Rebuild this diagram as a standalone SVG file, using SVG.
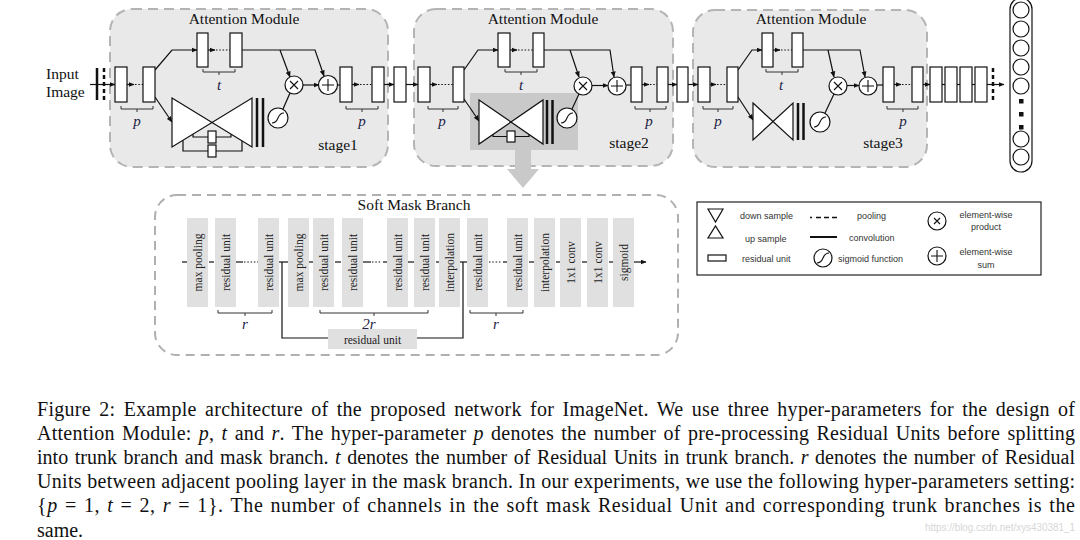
<svg xmlns="http://www.w3.org/2000/svg" width="1080" height="540" viewBox="0 0 1080 540">
<style>
.mod{fill:#e9e9e9;stroke:#b4b4b4;stroke-width:2;stroke-dasharray:10 6}
.smb{fill:#fff;stroke:#b0b0b0;stroke-width:2;stroke-dasharray:9 6}
.ru{fill:#fff;stroke:#111;stroke-width:1.2}
.ln{fill:none;stroke:#111;stroke-width:1.2}
.dot{fill:none;stroke:#111;stroke-width:1.2;stroke-dasharray:1.5 1.8}
.br{fill:none;stroke:#333;stroke-width:1}
.bt{fill:#fff;stroke:#111;stroke-width:1.2}
.thick{stroke:#111;stroke-width:2.5}
.t15{font-family:"Liberation Serif",serif;font-size:15.5px;fill:#111}
.it{font-family:"Liberation Serif",serif;font-size:15px;font-style:italic;fill:#222244;text-anchor:middle}
.col{fill:#e0e0e0}
.ct{font-family:"Liberation Serif",serif;font-size:11.5px;fill:#222;text-anchor:middle;dominant-baseline:central}
.lg{font-family:"Liberation Sans",Arial,sans-serif;font-size:9px;fill:#333}
.cap{font-family:"Liberation Serif",serif;font-size:20px;fill:#111}
.sm{fill:none;stroke:#111;stroke-width:1.1}
.dash{fill:none;stroke:#111;stroke-width:1.2}
</style>
<defs>
<marker id="ah" markerWidth="6" markerHeight="6" refX="5.5" refY="3" orient="auto" markerUnits="userSpaceOnUse">
<path d="M0,0.5 L6,3 L0,5.5 z" fill="#111"/>
</marker>
</defs>

<!-- module backgrounds -->
<g id="modules">
<rect class="mod" x="110" y="9" width="278" height="158" rx="22"/>
<rect class="mod" x="414" y="9" width="259" height="157" rx="22"/>
<rect class="mod" x="693" y="10" width="234" height="157" rx="22"/>
<rect x="470" y="93" width="108" height="57" fill="#c9c9c9"/>
<polygon points="515,150 531,150 531,169 539,169 523,188 507,169 515,169" fill="#c9c9c9"/>
<text class="t15" x="244" y="24" text-anchor="middle">Attention Module</text>
<text class="t15" x="543" y="24" text-anchor="middle">Attention Module</text>
<text class="t15" x="811" y="24" text-anchor="middle">Attention Module</text>
<text class="t15" x="338" y="150" text-anchor="middle">stage1</text>
<text class="t15" x="629" y="148" text-anchor="middle">stage2</text>
<text class="t15" x="883" y="148" text-anchor="middle">stage3</text>
</g>

<g id="input">
<text class="t15" x="46" y="79">Input</text>
<text class="t15" x="46" y="97">Image</text>
<line x1="97" y1="68" x2="97" y2="100" class="thick"/>
<line x1="104" y1="68" x2="104" y2="100" class="thick" stroke-dasharray="4 3"/>
</g>

<!-- connectors -->
<g id="connectors">
<line class="ln" x1="90" y1="84.5" x2="115" y2="84.5" marker-end="url(#ah)"/>
<line class="ln" x1="127" y1="84.5" x2="134" y2="84.5" marker-end="url(#ah)"/>
<line class="dot" x1="135" y1="84.5" x2="143" y2="84.5"/>
<path class="ln" d="M155,70 L172,50 H197" marker-end="url(#ah)"/>
<line class="ln" x1="208" y1="50" x2="215" y2="50" marker-end="url(#ah)"/>
<line class="dot" x1="216" y1="50" x2="230" y2="50"/>
<path class="ln" d="M242,50 H315 L324,76" marker-end="url(#ah)"/>
<path class="ln" d="M280,50 L290,77" marker-end="url(#ah)"/>
<path class="ln" d="M155,97 L172,122" marker-end="url(#ah)"/>
<line class="ln" x1="283" y1="109" x2="290" y2="93"/>
<line class="ln" x1="303" y1="85" x2="319" y2="85" marker-end="url(#ah)"/>
<line class="ln" x1="337" y1="85" x2="340" y2="85"/>
<line class="ln" x1="352" y1="84.5" x2="359" y2="84.5" marker-end="url(#ah)"/>
<line class="dot" x1="360" y1="84.5" x2="372" y2="84.5"/>
<line class="ln" x1="384" y1="84.5" x2="394" y2="84.5" marker-end="url(#ah)"/>
<line class="ln" x1="406" y1="84.5" x2="418" y2="84.5" marker-end="url(#ah)"/>

<line class="ln" x1="430" y1="84.5" x2="437" y2="84.5" marker-end="url(#ah)"/>
<line class="dot" x1="438" y1="84.5" x2="453" y2="84.5"/>
<path class="ln" d="M464,70 L478,50 H498" marker-end="url(#ah)"/>
<line class="ln" x1="510" y1="50" x2="517" y2="50" marker-end="url(#ah)"/>
<line class="dot" x1="518" y1="50" x2="533" y2="50"/>
<path class="ln" d="M544,50 H610 L614,77" marker-end="url(#ah)"/>
<path class="ln" d="M570,50 L579,77" marker-end="url(#ah)"/>
<path class="ln" d="M464,99 L479,121" marker-end="url(#ah)"/>
<line class="ln" x1="572" y1="109" x2="579" y2="94"/>
<line class="ln" x1="592" y1="85.5" x2="608" y2="85.5" marker-end="url(#ah)"/>
<line class="ln" x1="626" y1="85" x2="631" y2="85"/>
<line class="ln" x1="642" y1="84.5" x2="649" y2="84.5" marker-end="url(#ah)"/>
<line class="dot" x1="650" y1="84.5" x2="657" y2="84.5"/>
<line class="ln" x1="668" y1="84.5" x2="677" y2="84.5" marker-end="url(#ah)"/>
<line class="ln" x1="688" y1="84.5" x2="698" y2="84.5" marker-end="url(#ah)"/>

<line class="ln" x1="710" y1="84.5" x2="716" y2="84.5" marker-end="url(#ah)"/>
<line class="dot" x1="717" y1="84.5" x2="727" y2="84.5"/>
<path class="ln" d="M738,70 L752,50 H762" marker-end="url(#ah)"/>
<line class="ln" x1="773" y1="50" x2="780" y2="50" marker-end="url(#ah)"/>
<line class="dot" x1="781" y1="50" x2="792" y2="50"/>
<path class="ln" d="M803,50 H860 L865,77" marker-end="url(#ah)"/>
<path class="ln" d="M828,50 L834,77" marker-end="url(#ah)"/>
<path class="ln" d="M738,97 L753,120" marker-end="url(#ah)"/>
<line class="ln" x1="825" y1="113" x2="834" y2="94"/>
<line class="ln" x1="847" y1="85.5" x2="859" y2="85.5" marker-end="url(#ah)"/>
<line class="ln" x1="877" y1="85" x2="883" y2="85"/>
<line class="ln" x1="894" y1="84.5" x2="901" y2="84.5" marker-end="url(#ah)"/>
<line class="dot" x1="902" y1="84.5" x2="912" y2="84.5"/>
<line class="ln" x1="923" y1="84.5" x2="930" y2="84.5" marker-end="url(#ah)"/>
<line class="ln" x1="942" y1="84.5" x2="945" y2="84.5"/>
<line class="ln" x1="957" y1="84.5" x2="960" y2="84.5"/>
<line class="ln" x1="972" y1="84.5" x2="975" y2="84.5"/>
<line class="ln" x1="987" y1="84.5" x2="1004" y2="84.5" marker-end="url(#ah)"/>
<line x1="993" y1="68" x2="993" y2="100" class="thick" stroke-dasharray="4 3"/>
</g>

<!-- module 1 nodes -->
<g id="stage1">
<rect class="ru" x="115" y="67" width="12" height="35"/>
<rect class="ru" x="143" y="67" width="12" height="35"/>
<rect class="ru" x="197" y="33" width="11" height="34"/>
<rect class="ru" x="230" y="33" width="12" height="34"/>
<rect class="ru" x="340" y="67" width="12" height="35"/>
<rect class="ru" x="372" y="67" width="12" height="35"/>
<polygon class="bt" points="172,98 252,147 252,98 172,147"/>
<path class="ln" d="M193,134 V137 H231 V134"/>
<path class="ln" d="M183,140.5 V151 H242 V141"/>
<rect class="ru" x="208" y="131" width="8" height="12"/>
<rect class="ru" x="208" y="145" width="8" height="12"/>
<line x1="257" y1="98" x2="257" y2="147" class="thick"/>
<line x1="263" y1="98" x2="263" y2="147" class="thick"/>
<circle class="ru" cx="278" cy="118" r="10"/>
<path class="sm" d="M272,123 C280,123 276,113 284,113"/>
<circle class="ru" cx="294" cy="85" r="9"/>
<path class="sm" d="M290,81 L298,89 M298,81 L290,89"/>
<circle class="ru" cx="328" cy="85" r="9.5"/>
<path class="sm" d="M322,85 H334 M328,79 V91"/>
<path class="br" d="M121,106 V109 H153 V106 M137,109 V112"/>
<text class="it" x="137" y="126">p</text>
<path class="br" d="M203,69 V72 H235 V69 M219,72 V75"/>
<text class="it" x="219" y="90">t</text>
<path class="br" d="M346,106 V109 H378 V106 M362,109 V112"/>
<text class="it" x="362" y="126">p</text>
</g>

<g id="link12">
<rect class="ru" x="394" y="67" width="12" height="35"/>
</g>

<!-- module 2 nodes -->
<g id="stage2">
<rect class="ru" x="418" y="67" width="12" height="35"/>
<rect class="ru" x="453" y="67" width="11" height="35"/>
<rect class="ru" x="498" y="33" width="12" height="34"/>
<rect class="ru" x="533" y="33" width="11" height="34"/>
<rect class="ru" x="631" y="67" width="11" height="35"/>
<rect class="ru" x="657" y="67" width="11" height="35"/>
<polygon class="bt" points="479,100 543,144 543,100 479,144"/>
<path class="ln" d="M493,134.4 V136.5 H529 V134.4"/>
<rect class="ru" x="507" y="131" width="8" height="11"/>
<line x1="547" y1="100" x2="547" y2="144" class="thick"/>
<line x1="552.5" y1="100" x2="552.5" y2="144" class="thick"/>
<circle class="ru" cx="567" cy="118" r="10"/>
<path class="sm" d="M561,123 C569,123 565,113 573,113"/>
<circle class="ru" cx="583" cy="86" r="9"/>
<path class="sm" d="M579,82 L587,90 M587,82 L579,90"/>
<circle class="ru" cx="617" cy="86" r="9"/>
<path class="sm" d="M611,86 H623 M617,80 V92"/>
<path class="br" d="M428,106 V109 H458 V106 M443,109 V112"/>
<text class="it" x="442" y="126">p</text>
<path class="br" d="M505,69 V72 H537 V69 M521,72 V75"/>
<text class="it" x="521" y="90">t</text>
<path class="br" d="M635,106 V109 H666 V106 M650,109 V112"/>
<text class="it" x="649" y="126">p</text>
</g>

<g id="link23">
<rect class="ru" x="677" y="67" width="11" height="35"/>
</g>

<!-- module 3 nodes -->
<g id="stage3">
<rect class="ru" x="698" y="67" width="12" height="35"/>
<rect class="ru" x="727" y="67" width="11" height="35"/>
<rect class="ru" x="762" y="33" width="11" height="34"/>
<rect class="ru" x="792" y="33" width="11" height="34"/>
<rect class="ru" x="883" y="67" width="11" height="35"/>
<rect class="ru" x="912" y="67" width="11" height="35"/>
<polygon class="bt" points="753,103 793,140 793,103 753,140"/>
<line x1="798" y1="103" x2="798" y2="140" class="thick"/>
<line x1="803.5" y1="103" x2="803.5" y2="140" class="thick"/>
<circle class="ru" cx="820" cy="122" r="10"/>
<path class="sm" d="M814,127 C822,127 818,117 826,117"/>
<circle class="ru" cx="838" cy="86" r="9"/>
<path class="sm" d="M834,82 L842,90 M842,82 L834,90"/>
<circle class="ru" cx="868" cy="86" r="9"/>
<path class="sm" d="M862,86 H874 M868,80 V92"/>
<path class="br" d="M703,106 V109 H733 V106 M718,109 V112"/>
<text class="it" x="718" y="126">p</text>
<path class="br" d="M766,69 V72 H798 V69 M782,72 V75"/>
<text class="it" x="781" y="90">t</text>
<path class="br" d="M887,106 V109 H918 V106 M903,109 V112"/>
<text class="it" x="903" y="126">p</text>
</g>

<g id="tail">
<rect class="ru" x="930" y="67" width="12" height="35"/>
<rect class="ru" x="945" y="67" width="12" height="35"/>
<rect class="ru" x="960" y="67" width="12" height="35"/>
<rect class="ru" x="975" y="67" width="12" height="35"/>
</g>

<g id="output">
<rect class="ru" x="1010" y="-2" width="22" height="174" rx="11"/>
<circle class="ru" cx="1021" cy="10" r="8"/>
<circle class="ru" cx="1021" cy="29" r="8"/>
<circle class="ru" cx="1021" cy="48" r="8"/>
<circle class="ru" cx="1021" cy="67" r="8"/>
<circle class="ru" cx="1021" cy="86" r="8"/>
<rect x="1019" y="99" width="4.5" height="4.5" fill="#111"/>
<rect x="1019" y="112" width="4.5" height="4.5" fill="#111"/>
<rect x="1019" y="125" width="4.5" height="4.5" fill="#111"/>
<circle class="ru" cx="1021" cy="139" r="8"/>
<circle class="ru" cx="1021" cy="157" r="8"/>
</g>

<!-- soft mask branch -->
<g id="softmask">
<rect class="smb" x="155" y="195" width="523" height="160" rx="22"/>
<text class="t15" x="414" y="210" text-anchor="middle">Soft Mask Branch</text>
<g id="sm-lines">
<line class="dash" x1="182" y1="262" x2="187" y2="262"/>
<line class="dash" x1="209" y1="262" x2="214" y2="262"/>
<line class="dash" x1="236" y1="262" x2="243" y2="262"/>
<line class="dot" x1="244" y1="262" x2="258" y2="262"/>
<line class="dash" x1="279" y1="262" x2="288" y2="262"/>
<line class="dash" x1="309" y1="262" x2="313" y2="262"/>
<line class="dash" x1="335" y1="262" x2="341" y2="262"/>
<line class="dash" x1="363" y1="262" x2="371" y2="262"/>
<line class="dot" x1="372" y1="262" x2="382" y2="262"/>
<line class="dash" x1="383" y1="262" x2="387" y2="262"/>
<line class="dash" x1="408" y1="262" x2="414" y2="262"/>
<line class="dash" x1="436" y1="262" x2="439" y2="262"/>
<line class="dash" x1="460" y1="262" x2="467" y2="262"/>
<line class="dot" x1="489" y1="262" x2="502" y2="262"/>
<line class="dash" x1="503" y1="262" x2="507" y2="262"/>
<line class="dash" x1="529" y1="262" x2="534" y2="262"/>
<line class="dash" x1="556" y1="262" x2="560" y2="262"/>
<line class="dash" x1="582" y1="262" x2="587" y2="262"/>
<line class="dash" x1="609" y1="262" x2="613" y2="262"/>
<line class="ln" x1="634" y1="262" x2="646" y2="262" marker-end="url(#ah)"/>
<path class="ln" stroke-width="1.5" d="M282,262 V338 H328"/>
<path class="ln" stroke-width="1.5" d="M417,338 H463 V262"/>
</g>
<g id="sm-cols">
<rect class="col" x="187" y="218" width="21" height="89"/><text class="ct" transform="translate(197.5,262.5) rotate(-90)">max pooling</text>
<rect class="col" x="215" y="218" width="21" height="89"/><text class="ct" transform="translate(225.5,262.5) rotate(-90)">residual unit</text>
<rect class="col" x="258" y="218" width="21" height="89"/><text class="ct" transform="translate(268.5,262.5) rotate(-90)">residual unit</text>
<rect class="col" x="288" y="218" width="21" height="89"/><text class="ct" transform="translate(298.5,262.5) rotate(-90)">max pooling</text>
<rect class="col" x="313" y="218" width="21" height="89"/><text class="ct" transform="translate(323.5,262.5) rotate(-90)">residual unit</text>
<rect class="col" x="342" y="218" width="21" height="89"/><text class="ct" transform="translate(352.5,262.5) rotate(-90)">residual unit</text>
<rect class="col" x="387" y="218" width="21" height="89"/><text class="ct" transform="translate(397.5,262.5) rotate(-90)">residual unit</text>
<rect class="col" x="414" y="218" width="21" height="89"/><text class="ct" transform="translate(424.5,262.5) rotate(-90)">residual unit</text>
<rect class="col" x="439" y="218" width="21" height="89"/><text class="ct" transform="translate(449.5,262.5) rotate(-90)">interpolation</text>
<rect class="col" x="467" y="218" width="21" height="89"/><text class="ct" transform="translate(477.5,262.5) rotate(-90)">residual unit</text>
<rect class="col" x="507" y="218" width="21" height="89"/><text class="ct" transform="translate(517.5,262.5) rotate(-90)">residual unit</text>
<rect class="col" x="534" y="218" width="21" height="89"/><text class="ct" transform="translate(544.5,262.5) rotate(-90)">interpolation</text>
<rect class="col" x="560" y="218" width="21" height="89"/><text class="ct" transform="translate(570.5,262.5) rotate(-90)">1x1 conv</text>
<rect class="col" x="587" y="218" width="21" height="89"/><text class="ct" transform="translate(597.5,262.5) rotate(-90)">1x1 conv</text>
<rect class="col" x="613" y="218" width="21" height="89"/><text class="ct" transform="translate(623.5,262.5) rotate(-90)">sigmoid</text>
</g>
<g id="sm-skip">
<rect class="col" x="328" y="329" width="89" height="20"/>
<text class="ct" x="372.5" y="339.5">residual unit</text>
</g>
<path class="br" d="M218,310 V313 H272 V310 M245,313 V316"/>
<text class="it" x="245" y="329">r</text>
<path class="br" d="M320,310 V313 H428 V310 M374,313 V316"/>
<text class="it" x="369" y="329">2r</text>
<path class="br" d="M470,310 V313 H523 V310 M496,313 V316"/>
<text class="it" x="496" y="329">r</text>
</g>

<!-- legend -->
<g id="legend">
<rect x="697" y="202" width="344" height="73" fill="#fff" stroke="#222" stroke-width="1.2"/>
<polygon points="708,209 723,209 715.5,222" class="ln"/>
<polygon points="708,238 723,238 715.5,226" class="ln"/>
<rect x="708" y="255" width="18" height="6" class="ln"/>
<text class="lg" x="740" y="219">down sample</text>
<text class="lg" x="745" y="242">up sample</text>
<text class="lg" x="742" y="262">residual unit</text>
<line x1="810" y1="217.5" x2="812" y2="217.5" stroke="#111" stroke-width="1.5"/>
<line x1="816" y1="217.5" x2="837" y2="217.5" stroke="#111" stroke-width="1.5" stroke-dasharray="5 3"/>
<line x1="810" y1="237" x2="837" y2="237" stroke="#111" stroke-width="2"/>
<text class="lg" x="857" y="219">pooling</text>
<text class="lg" x="849" y="241">convolution</text>
<circle cx="823" cy="258" r="9" class="ln"/>
<path class="sm" d="M817,263 C825,263 821,253 829,253"/>
<text class="lg" x="838" y="262">sigmoid function</text>
<circle cx="937" cy="221" r="9" class="ln"/>
<path class="sm" d="M934,218 L940,224 M940,218 L934,224"/>
<circle cx="937" cy="256" r="9" class="ln"/>
<path class="sm" d="M931,256 H943 M937,250 V262"/>
<text class="lg" x="986" y="218" text-anchor="middle">element-wise</text>
<text class="lg" x="986" y="230" text-anchor="middle">product</text>
<text class="lg" x="986" y="255" text-anchor="middle">element-wise</text>
<text class="lg" x="986" y="268" text-anchor="middle">sum</text>
</g>

<!-- caption -->
<g id="caption">
<text class="cap" x="37" y="415.5" word-spacing="3" textLength="1038" lengthAdjust="spacing">Figure 2: Example architecture of the proposed network for ImageNet. We use three hyper-parameters for the design of</text>
<text class="cap" x="37" y="439.7" word-spacing="2" textLength="1038" lengthAdjust="spacing">Attention Module: <tspan font-style="italic">p</tspan>, <tspan font-style="italic">t</tspan> and <tspan font-style="italic">r</tspan>. The hyper-parameter <tspan font-style="italic">p</tspan> denotes the number of pre-processing Residual Units before splitting</text>
<text class="cap" x="37" y="463.9" word-spacing="1.5" textLength="1038" lengthAdjust="spacing">into trunk branch and mask branch. <tspan font-style="italic">t</tspan> denotes the number of Residual Units in trunk branch. <tspan font-style="italic">r</tspan> denotes the number of Residual</text>
<text class="cap" x="37" y="488.1" textLength="1038" lengthAdjust="spacing">Units between adjacent pooling layer in the mask branch. In our experiments, we use the following hyper-parameters setting:</text>
<text class="cap" x="37" y="512.3" word-spacing="1.5" textLength="1038" lengthAdjust="spacing">{<tspan font-style="italic">p</tspan> = 1, <tspan font-style="italic">t</tspan> = 2, <tspan font-style="italic">r</tspan> = 1}. The number of channels in the soft mask Residual Unit and corresponding trunk branches is the</text>
<text class="cap" x="37" y="536.5">same.</text>
<text x="925" y="531" font-family="'Liberation Sans',Arial,sans-serif" font-size="10px" fill="#d6d6d6" textLength="150" lengthAdjust="spacingAndGlyphs">https://blog.csdn.net/xys430381_1</text>
</g>
</svg>
